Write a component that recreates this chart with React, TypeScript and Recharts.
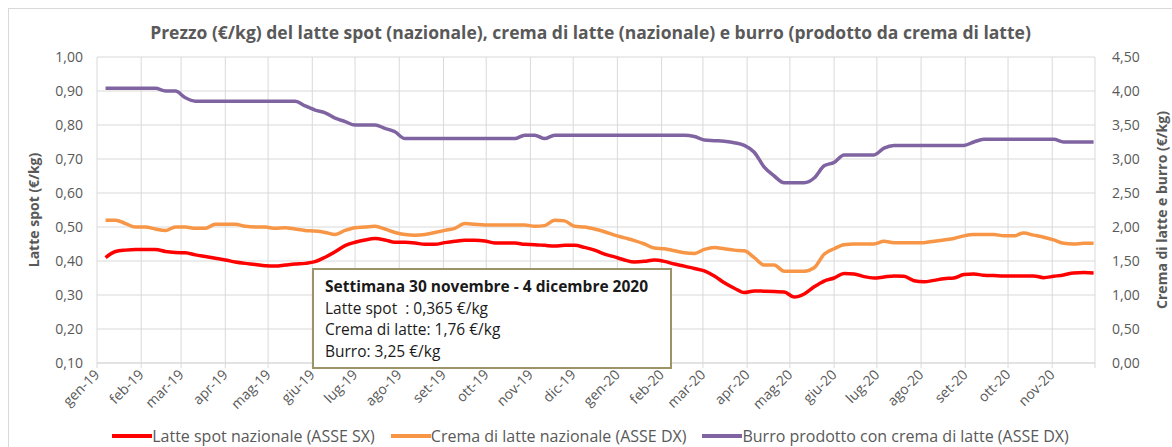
import { CartesianGrid, Legend, Line, LineChart, XAxis, YAxis } from "recharts"

// weekly prices, first week 7 Jan 2019, last week 30 Nov 2020
const latteSpot = [
  0.410, 0.428, 0.432, 0.434, 0.434, 0.434, 0.428, 0.425, 0.424, 0.418,
  0.413, 0.408, 0.403, 0.397, 0.393, 0.390, 0.386, 0.385, 0.388, 0.391,
  0.393, 0.398, 0.411, 0.427, 0.445, 0.455, 0.462, 0.466, 0.462, 0.455,
  0.455, 0.453, 0.449, 0.449, 0.454, 0.458, 0.461, 0.461, 0.459, 0.453,
  0.453, 0.453, 0.449, 0.448, 0.446, 0.444, 0.446, 0.446, 0.440, 0.432,
  0.420, 0.412, 0.403, 0.397, 0.399, 0.403, 0.399, 0.391, 0.385, 0.378,
  0.371, 0.356, 0.336, 0.320, 0.307, 0.312, 0.311, 0.310, 0.309, 0.294,
  0.303, 0.324, 0.341, 0.350, 0.363, 0.362, 0.354, 0.350, 0.353, 0.356,
  0.355, 0.342, 0.339, 0.343, 0.348, 0.350, 0.360, 0.362, 0.358, 0.357,
  0.356, 0.356, 0.356, 0.356, 0.351, 0.355, 0.359, 0.365, 0.366, 0.365,
]

const cremaLatte = [
  2.10, 2.10, 2.05, 2.00, 2.00, 1.97, 1.95, 2.00, 2.00, 1.98,
  1.98, 2.04, 2.04, 2.04, 2.01, 2.00, 2.00, 1.98, 1.99, 1.97,
  1.95, 1.94, 1.92, 1.89, 1.95, 1.99, 2.00, 2.01, 1.97, 1.92,
  1.89, 1.88, 1.89, 1.92, 1.95, 1.98, 2.05, 2.04, 2.03, 2.03,
  2.03, 2.03, 2.03, 2.01, 2.02, 2.10, 2.09, 2.01, 2.00, 1.97,
  1.93, 1.88, 1.84, 1.80, 1.75, 1.69, 1.68, 1.65, 1.62, 1.61,
  1.67, 1.70, 1.68, 1.66, 1.65, 1.55, 1.44, 1.44, 1.35, 1.35,
  1.35, 1.40, 1.60, 1.68, 1.74, 1.75, 1.75, 1.75, 1.79, 1.77,
  1.77, 1.77, 1.77, 1.79, 1.81, 1.83, 1.87, 1.89, 1.89, 1.89,
  1.87, 1.87, 1.91, 1.88, 1.85, 1.81, 1.76, 1.75, 1.76, 1.76,
]

const burro = [
  4.04, 4.04, 4.04, 4.04, 4.04, 4.04, 4.00, 4.00, 3.90, 3.85,
  3.85, 3.85, 3.85, 3.85, 3.85, 3.85, 3.85, 3.85, 3.85, 3.85,
  3.78, 3.72, 3.68, 3.60, 3.55, 3.50, 3.50, 3.50, 3.45, 3.40,
  3.30, 3.30, 3.30, 3.30, 3.30, 3.30, 3.30, 3.30, 3.30, 3.30,
  3.30, 3.30, 3.35, 3.35, 3.30, 3.35, 3.35, 3.35, 3.35, 3.35,
  3.35, 3.35, 3.35, 3.35, 3.35, 3.35, 3.35, 3.35, 3.35, 3.33,
  3.28, 3.27, 3.26, 3.24, 3.20, 3.10, 2.88, 2.75, 2.65, 2.65,
  2.65, 2.72, 2.90, 2.95, 3.06, 3.06, 3.06, 3.06, 3.16, 3.20,
  3.20, 3.20, 3.20, 3.20, 3.20, 3.20, 3.20, 3.25, 3.29, 3.29,
  3.29, 3.29, 3.29, 3.29, 3.29, 3.29, 3.25, 3.25, 3.25, 3.25,
]

const monthLabels = [
  "gen-19", "feb-19", "mar-19", "apr-19", "mag-19", "giu-19", "lug-19", "ago-19",
  "set-19", "ott-19", "nov-19", "dic-19", "gen-20", "feb-20", "mar-20", "apr-20",
  "mag-20", "giu-20", "lug-20", "ago-20", "set-20", "ott-20", "nov-20", "",
]
// days since 1 Jan 2019 at the start of each month
const monthStarts = [0, 31, 59, 90, 120, 151, 181, 212, 243, 273, 304, 334, 365, 396, 425, 456, 486, 517, 547, 578, 609, 639, 670, 700]

const leftTicks = [0.1, 0.2, 0.3, 0.4, 0.5, 0.6, 0.7, 0.8, 0.9, 1.0]
const rightTicks = [0, 0.5, 1, 1.5, 2, 2.5, 3, 3.5, 4, 4.5]

const seriesNames = [
  "Latte spot nazionale (ASSE SX)",
  "Crema di latte nazionale (ASSE DX)",
  "Burro prodotto con crema di latte (ASSE DX)",
]

const data = latteSpot.map((v, i) => ({
  day: 6 + 7 * i,
  latte: v,
  crema: cremaLatte[i],
  burro: burro[i],
}))

const FONT = "'Open Sans', sans-serif"
const GREY = "#595959"

const fmt = (v: number) => v.toFixed(2).replace(".", ",")

const MonthTick = ({ x, y, payload }: any) => {
  const idx = monthStarts.indexOf(payload.value)
  return (
    <text x={x} y={y} dy="0.35em" textAnchor="end" fill={GREY} fontSize={14} fontFamily={FONT}
      transform={`rotate(-45 ${x} ${y})`}>
      {monthLabels[idx]}
    </text>
  )
}

const axisTitle = (text: string, side: "left" | "right") => ({ viewBox }: any) => {
  const cx = side === "left" ? viewBox.x + 16 : viewBox.x + 66
  const cy = viewBox.y + viewBox.height / 2
  return (
    <text x={cx} y={cy} textAnchor="middle" dominantBaseline="central" fill={GREY}
      fontSize={14} fontWeight="bold" fontFamily={FONT} transform={`rotate(-90 ${cx} ${cy})`}>
      {text}
    </text>
  )
}

const renderLegend = ({ payload }: any) => {
  const items = [...payload].sort((a: any, b: any) => seriesNames.indexOf(a.value) - seriesNames.indexOf(b.value))
  return (
    <div style={{ display: "flex", justifyContent: "center", alignItems: "center", gap: 16, fontFamily: FONT, fontSize: 16, color: GREY }}>
      {items.map((p: any) => (
        <span key={p.value} style={{ display: "inline-flex", alignItems: "center" }}>
          <svg width={40} height={4} style={{ display: "block" }}>
            <line x1={0} y1={2} x2={40} y2={2} stroke={p.color} strokeWidth={4} />
          </svg>
          <span>{p.value}</span>
        </span>
      ))}
    </div>
  )
}

export default function App() {
  return (
    <div style={{ position: "absolute", left: 8, top: 8, width: 1163, height: 438, borderTop: "1px solid #d9d9d9", borderLeft: "1px solid #d9d9d9", overflow: "hidden", background: "#fff", fontFamily: FONT }}>
      <div style={{ position: "absolute", top: 12, left: 0, width: 1163, textAlign: "center", fontSize: 17.5, lineHeight: "22px", fontWeight: "bold", color: GREY }}>
        Prezzo (€/kg) del latte spot (nazionale), crema di latte (nazionale) e burro (prodotto da crema di latte)
      </div>
      <LineChart width={1163} height={438} data={data} margin={{ top: 48, right: 8, left: 8, bottom: 0 }}>
        <CartesianGrid stroke="#d9d9d9" yAxisId="left" />
        <XAxis dataKey="day" type="number" domain={[0, 700]} ticks={monthStarts} interval={0}
          height={62} tickSize={5} tickMargin={4} stroke="#d9d9d9" tick={<MonthTick />} />
        <YAxis yAxisId="left" domain={[0.1, 1]} ticks={leftTicks} tickFormatter={fmt} width={80}
          axisLine={false} tickLine={false} tickSize={6} tickMargin={8}
          tick={{ fill: GREY, fontSize: 14, fontFamily: FONT }}
          label={{ content: axisTitle("Latte spot (€/kg)", "left") }} />
        <YAxis yAxisId="right" orientation="right" domain={[0, 4.5]} ticks={rightTicks} tickFormatter={fmt} width={69}
          axisLine={false} tickLine={false} tickSize={6} tickMargin={11}
          tick={{ fill: GREY, fontSize: 14, fontFamily: FONT }}
          label={{ content: axisTitle("Crema di latte e burro (€/kg)", "right") }} />
        <Legend verticalAlign="bottom" height={22} content={renderLegend} />
        <Line yAxisId="left" type="monotone" dataKey="latte" name={seriesNames[0]}
          stroke="#ff0000" strokeWidth={3.5} dot={false} isAnimationActive={false} />
        <Line yAxisId="right" type="monotone" dataKey="crema" name={seriesNames[1]}
          stroke="#f79646" strokeWidth={3.5} dot={false} isAnimationActive={false} />
        <Line yAxisId="right" type="monotone" dataKey="burro" name={seriesNames[2]}
          stroke="#8064a2" strokeWidth={3.5} dot={false} isAnimationActive={false} />
      </LineChart>
      <div style={{ position: "absolute", left: 303, top: 259, width: 345, height: 91, border: "2px solid #9c9468", background: "#fff", padding: "6px 0 0 11px", boxSizing: "content-box", fontSize: 15.5, lineHeight: "21.5px", color: "#1a1a1a" }}>
        <div style={{ fontWeight: "bold" }}>Settimana 30 novembre - 4 dicembre 2020</div>
        <div>Latte spot&nbsp; : 0,365 €/kg</div>
        <div>Crema di latte: 1,76 €/kg</div>
        <div>Burro: 3,25 €/kg</div>
      </div>
    </div>
  )
}
